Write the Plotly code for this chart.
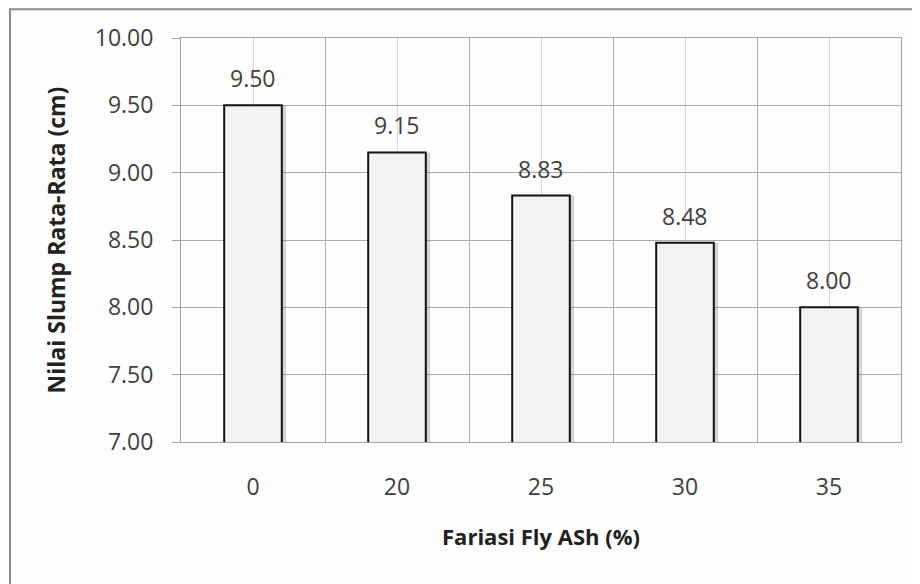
import plotly.graph_objects as go

categories = ["0", "20", "25", "30", "35"]
slump = [9.50, 9.15, 8.83, 8.48, 8.00]
y_ticks = [7.0, 7.5, 8.0, 8.5, 9.0, 9.5, 10.0]

FONT = "Open Sans"
pos = list(range(len(categories)))

fig = go.Figure()
# soft shadow behind the bars
fig.add_trace(go.Bar(
    x=pos, y=slump, width=0.4, offset=-0.17,
    marker=dict(color="rgba(0,0,0,0.16)", line=dict(width=0)),
    hoverinfo="skip", showlegend=False,
))
fig.add_trace(go.Bar(
    x=pos, y=slump, width=0.4, offset=-0.2,
    marker=dict(color="#f2f2f2", line=dict(color="#111111", width=2)),
    showlegend=False,
))

for xi, v in zip(pos, slump):
    fig.add_annotation(x=xi, y=v, text=f"{v:.2f}", showarrow=False,
                       yanchor="bottom", yshift=9,
                       font=dict(family=FONT, size=23, color="#404040"))

fig.update_layout(
    width=912, height=576,
    margin=dict(l=173, r=19, t=30, b=142),
    paper_bgcolor="#fdfdfd", plot_bgcolor="#fdfdfd",
    barmode="overlay",
    font=dict(family=FONT, color="#404040"),
    shapes=[dict(type="rect", xref="paper", yref="paper",
                 x0=-0.2375, x1=1.06, y0=-0.45, y1=1.071,
                 line=dict(color="#8c8c8c", width=2), layer="below")],
)
fig.update_xaxes(
    range=[-0.5, len(categories) - 0.5],
    tickvals=pos, ticktext=categories,
    showgrid=True, gridcolor="#d6d6d6", gridwidth=1,
    minor=dict(tick0=-0.5, dtick=1, showgrid=True, gridcolor="#ababab", gridwidth=1),
    showline=True, linecolor="#a0a0a0", linewidth=1, mirror=True,
    ticks="", ticklabelstandoff=24,
    tickfont=dict(family=FONT, size=23, color="#404040"),
    title=dict(text="<b>Fariasi Fly ASh (%)</b>", standoff=29,
               font=dict(family=FONT, size=22, color="#222222")),
    zeroline=False,
)
fig.update_yaxes(
    range=[7, 10], tickvals=y_ticks, tickformat=".2f",
    showgrid=True, gridcolor="#ababab", gridwidth=1,
    showline=True, linecolor="#a0a0a0", linewidth=1, mirror=True,
    ticks="outside", ticklen=8, tickcolor="#a0a0a0", ticklabelstandoff=14,
    tickfont=dict(family=FONT, size=23, color="#404040"),
    title=dict(text="<b>Nilai Slump Rata-Rata (cm)</b>", standoff=22,
               font=dict(family=FONT, size=23, color="#222222")),
    zeroline=False,
)

fig.write_html("out.html")
